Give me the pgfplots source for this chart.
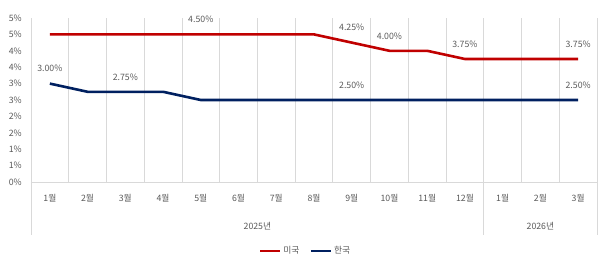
\documentclass[border=0pt]{standalone}
\usepackage{pgfplots}
\pgfplotsset{compat=1.18}
\usepackage{fontspec}
\setmainfont{Noto Sans CJK KR}
\definecolor{usred}{HTML}{C00000}
\definecolor{krblue}{HTML}{002060}
\definecolor{txt}{HTML}{595959}
\definecolor{gridc}{HTML}{D9D9D9}
\begin{document}
\begin{tikzpicture}[x=1bp,y=1bp]
\begin{axis}[name=ax, at={(0,0)}, anchor=south west, scale only axis,
  width=566bp, height=164bp,
  xmin=-0.5, xmax=14.5, ymin=0, ymax=5,
  clip=false,
  axis x line*=bottom, axis y line*=left,
  axis line style={draw=gridc, line width=0.75bp},
  xtick={0,...,14},
  xticklabels={1월,2월,3월,4월,5월,6월,7월,8월,9월,10월,11월,12월,1월,2월,3월},
  minor xtick={0.5,1.5,...,14.5},
  xminorgrids=true,
  minor x grid style={draw=gridc, line width=0.75bp},
  major tick length=0pt, minor tick length=0pt,
  ytick={0,0.5,...,5},
  yticklabels={0\%,1\%,1\%,2\%,2\%,3\%,3\%,4\%,4\%,5\%,5\%},
  tick label style={font=\fontsize{8.8}{10}\selectfont, text=txt, inner sep=0pt},
  xticklabel style={anchor=north, yshift=-12bp},
  yticklabel style={anchor=east, xshift=-9bp},
  point meta=explicit symbolic,
  nodes near coords,
  nodes near coords style={anchor=center, yshift=15bp, font=\fontsize{8.8}{10}\selectfont, text=txt, inner sep=0pt},
  legend style={at={(axis description cs:0.485,-0.42)}, anchor=center, draw=none, fill=none,
    font=\fontsize{8.8}{10}\selectfont, text=txt, legend columns=2,
    /tikz/every even column/.append style={column sep=8bp}},
  legend image code/.code={\draw[#1] (0bp,0bp) -- (20bp,0bp);},
]
\addplot[usred, line width=2.6bp, mark=none] coordinates {
  (0,4.5) [] (1,4.5) [] (2,4.5) [] (3,4.5) [] (4,4.5) [4.50\%] (5,4.5) [] (6,4.5) [] (7,4.5) []
  (8,4.25) [4.25\%] (9,4.0) [4.00\%] (10,4.0) [] (11,3.75) [3.75\%] (12,3.75) [] (13,3.75) [] (14,3.75) [3.75\%]
};
\addlegendentry{미국}
\addplot[krblue, line width=2.6bp, mark=none] coordinates {
  (0,3.0) [3.00\%] (1,2.75) [] (2,2.75) [2.75\%] (3,2.75) [] (4,2.5) [] (5,2.5) [] (6,2.5) [] (7,2.5) []
  (8,2.5) [2.50\%] (9,2.5) [] (10,2.5) [] (11,2.5) [] (12,2.5) [] (13,2.5) [] (14,2.5) [2.50\%]
};
\addlegendentry{한국}
\draw[gridc, line width=0.75bp] (axis cs:-0.5,0) -- ([yshift=-53bp]axis cs:-0.5,0);
\draw[gridc, line width=0.75bp] (axis cs:11.5,0) -- ([yshift=-53bp]axis cs:11.5,0);
\draw[gridc, line width=0.75bp] (axis cs:14.5,0) -- ([yshift=-53bp]axis cs:14.5,0);
\node[text=txt, font=\fontsize{8.8}{10}\selectfont, inner sep=0pt] at ([yshift=-44bp]axis cs:5.5,0) {2025년};
\node[text=txt, font=\fontsize{8.8}{10}\selectfont, inner sep=0pt] at ([yshift=-44bp]axis cs:13,0) {2026년};
\end{axis}
\pgfresetboundingbox
\path[use as bounding box] (-31bp,-75bp) rectangle (575bp,182bp);
\end{tikzpicture}
\end{document}
